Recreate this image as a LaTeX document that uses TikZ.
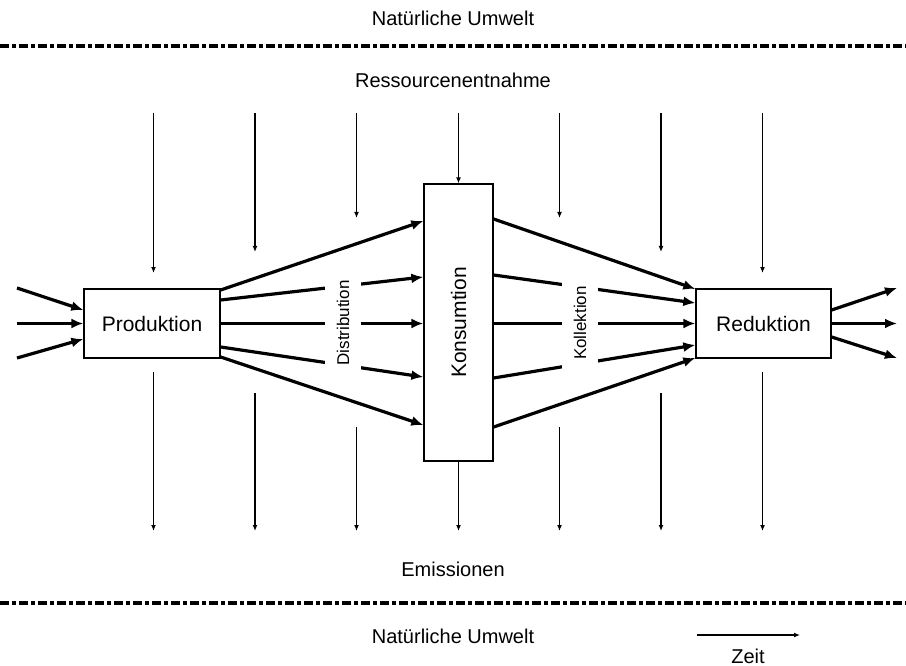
\documentclass[tikz,border=0pt]{standalone}
\usepackage{fontspec}
\setmainfont{Liberation Sans}
\usetikzlibrary{arrows.meta,calc}
\begin{document}
\begin{tikzpicture}[x=1pt,y=-1pt,
  box/.style={draw, line width=1.3pt, inner sep=0pt, font=\fontsize{21}{25}\selectfont},
  thickarrow/.style={line width=3.2pt, -{Latex[length=12pt,width=10pt]}},
  thinarrow/.style={line width=1.2pt, -{Latex[length=6pt,width=5pt]}},
  lbl/.style={font=\fontsize{20}{24}\selectfont, inner sep=0pt},
  smalllbl/.style={font=\fontsize{17}{20}\selectfont, fill=white, rotate=90, inner sep=0pt, minimum height=36pt, minimum width=96pt},
  borderline/.style={line width=3.2pt, dash pattern=on 9pt off 3pt on 4pt off 3pt}
]
\useasboundingbox (0,0) rectangle (906,666);

% texts and borders
\node[lbl] (nu1) at (453,18) {Natürliche Umwelt};
\coordinate (b1l) at (0,46);
\coordinate (b1r) at (906,46);
\draw[borderline] (b1l) -- (b1r);
\node[lbl] (res) at (453,80) {Ressourcenentnahme};
\node[lbl] (emi) at (453,569) {Emissionen};
\coordinate (b2l) at (0,603);
\coordinate (b2r) at (906,603);
\draw[borderline] (b2l) -- (b2r);
\node[lbl] (nu2) at (453,636) {Natürliche Umwelt};
\coordinate (zs) at (697,635);
\coordinate (ze) at (800,635);
\draw[thinarrow] (zs) -- (ze);
\node[lbl] (zeit) at (748,656) {Zeit};

% boxes
\node[box, minimum width=136pt, minimum height=69pt] (prod) at (152,323.5) {Produktion};
\node[box, minimum width=69pt, minimum height=277pt] (kons) at (458.5,322.5) {};
\node[rotate=90, font=\fontsize{21}{25}\selectfont, inner sep=0pt] (konslbl) at (kons.center) {Konsumtion};
\node[box, minimum width=135pt, minimum height=69pt] (red) at (763.5,323.5) {Reduktion};

% inputs
\coordinate (ia) at (17,288);
\coordinate (ib) at (17,323.5);
\coordinate (ic) at (17,358);
\draw[thickarrow] (ia) -- (prod.west |- 0,310);
\draw[thickarrow] (ib) -- (prod.west);
\draw[thickarrow] (ic) -- (prod.west |- 0,339);

% distribution
\draw[thickarrow] (prod.east |- 0,290) -- (kons.west |- 0,221);
\draw[thickarrow] (prod.east |- 0,300) -- (kons.west |- 0,277);
\draw[thickarrow] (prod.east) -- (kons.west |- prod.east);
\draw[thickarrow] (prod.east |- 0,347) -- (kons.west |- 0,377);
\draw[thickarrow] (prod.east |- 0,357) -- (kons.west |- 0,425);

% collection
\draw[thickarrow] (kons.east |- 0,219) -- (red.west |- 0,289);
\draw[thickarrow] (kons.east |- 0,275) -- (red.west |- 0,303);
\draw[thickarrow] (kons.east |- red.west) -- (red.west);
\draw[thickarrow] (kons.east |- 0,378) -- (red.west |- 0,345);
\draw[thickarrow] (kons.east |- 0,427) -- (red.west |- 0,358);

\node[smalllbl] (dist) at (343,323) {Distribution};
\node[smalllbl] (koll) at (580,323) {Kollektion};

% outputs
\coordinate (oa) at (897,288);
\coordinate (ob) at (897,323.5);
\coordinate (oc) at (897,358);
\draw[thickarrow] (red.east |- 0,310) -- (oa);
\draw[thickarrow] (red.east) -- (ob);
\draw[thickarrow] (red.east |- 0,337) -- (oc);

% resource and emission arrows
\foreach \x/\te/\bs in {153.5/273/372, 255/252/393, 356.5/218/427, 559.5/218/427, 661/252/393, 762.5/273/372} {
  \draw[thinarrow] (\x,113) -- (\x,\te);
  \draw[thinarrow] (\x,\bs) -- (\x,531);
}
\draw[thinarrow] (kons.north |- 0,113) -- (kons.north);
\draw[thinarrow] (kons.south) -- (kons.south |- 0,531);
\end{tikzpicture}
\end{document}
